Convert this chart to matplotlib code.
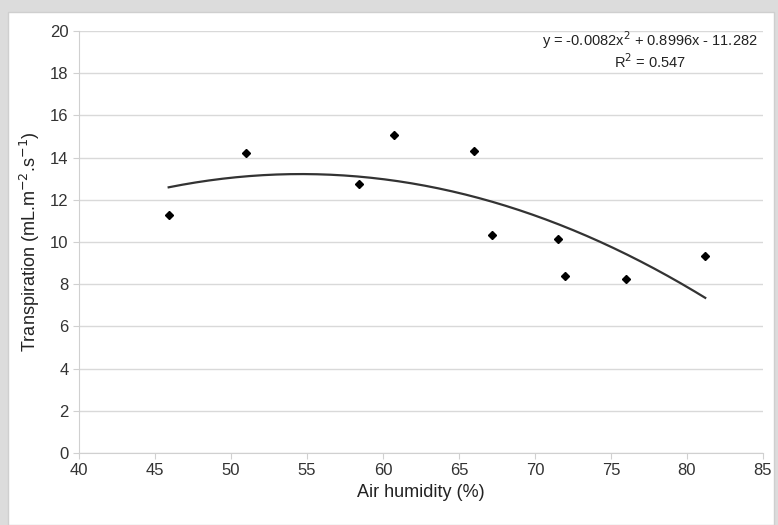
import numpy as np
import matplotlib
matplotlib.use("Agg")
import matplotlib.pyplot as plt
from matplotlib.patches import Rectangle

plt.rcParams['font.family'] = ['Liberation Sans', 'DejaVu Sans']

# data
humidity = [45.9, 51.0, 58.4, 60.7, 66.0, 67.2, 71.5, 72.0, 76.0, 81.2]
transpiration = [11.3, 14.2, 12.75, 15.05, 14.3, 10.35, 10.15, 8.4, 8.25, 9.35]
# trend line label as printed on the chart
eq_label = 'y = -0.0082x$^2$ + 0.8996x - 11.282\nR$^2$ = 0.547'

xticks = [40, 45, 50, 55, 60, 65, 70, 75, 80, 85]
yticks = [0, 2, 4, 6, 8, 10, 12, 14, 16, 18, 20]

fig = plt.figure(figsize=(7.78, 5.25), dpi=100)
fig.patch.set_facecolor('#dcdcdc')
# white card with a light border
fig.patches.append(Rectangle((8 / 778, 0), 766 / 778, 1 - 12 / 525,
                             transform=fig.transFigure, facecolor='white',
                             edgecolor='#cfcfcf', linewidth=1, zorder=0))

ax = fig.add_axes([79 / 778, 1 - 453 / 525, 684 / 778, 422 / 525])
ax.set_zorder(2)
ax.set_facecolor('none')

# 2nd order polynomial trend line fitted to the points
coef = np.polyfit(humidity, transpiration, 2)
xs = np.linspace(min(humidity), max(humidity), 200)
ax.plot(xs, np.polyval(coef, xs), color='#333333', lw=1.6, zorder=3)
ax.plot(humidity, transpiration, 'D', color='black', markersize=4.5, zorder=4)

ax.set_xlim(40, 85)
ax.set_ylim(0, 20)
ax.set_xticks(xticks)
ax.set_yticks(yticks)
ax.yaxis.grid(True, color='#d9d9d9', lw=1)
ax.set_axisbelow(True)
for s in ['top', 'right']:
    ax.spines[s].set_visible(False)
for s in ['left', 'bottom']:
    ax.spines[s].set_color('#d0d0d0')
ax.tick_params(colors='#d0d0d0', labelcolor='#333333', labelsize=12, length=4)

ax.set_xlabel('Air humidity (%)', fontsize=13, color='#222222', labelpad=4)
ax.set_ylabel('Transpiration (mL.m$^{-2}$.s$^{-1}$)', fontsize=13, color='#222222', labelpad=6)

t = fig.text(650 / 778, 1 - 50 / 525, eq_label, ha='center', va='center', fontsize=10.5,
             color='#222222', linespacing=1.1, multialignment='center')
t.set_zorder(3)

fig.savefig('out.png', dpi=100, facecolor=fig.get_facecolor())
